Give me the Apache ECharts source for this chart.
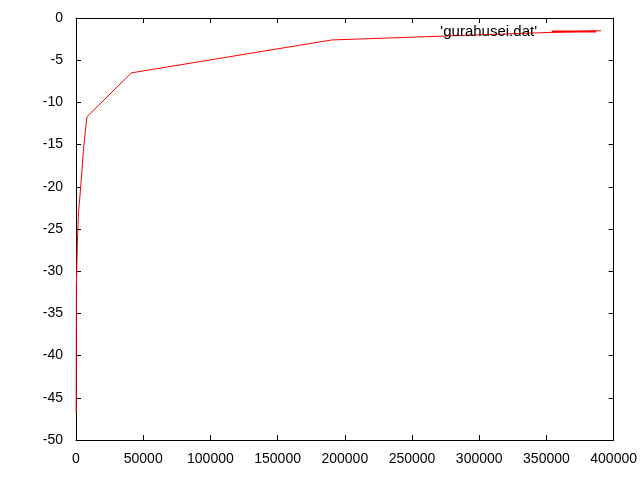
<!DOCTYPE html>
<html>
<head>
<meta charset="utf-8">
<script src="https://cdn.jsdelivr.net/npm/echarts@6/dist/echarts.min.js"></script>
<style>html,body{margin:0;padding:0;background:#fff;}#c{width:640px;height:480px;}</style>
</head>
<body>
<div id="c"></div>
<script>
const seriesName = "'gurahusei.dat'";
const xValues = [150, 300, 1100, 1850, 3300, 5600, 7400, 8200, 41200, 190300, 390600];
const yValues = [-46.8, -31.6, -26.3, -23.1, -20.4, -15.6, -12.7, -11.7, -6.5, -2.6, -1.5];
const xTicks = [0, 50000, 100000, 150000, 200000, 250000, 300000, 350000, 400000];
const yTicks = [-50, -45, -40, -35, -30, -25, -20, -15, -10, -5, 0];

const data = xValues.map((x, i) => [x, yValues[i]]);
const font = 'Liberation Sans, Arial, sans-serif';
const chart = echarts.init(document.getElementById('c'));
const axisCommon = {
  type: 'value',
  axisLine: { show: true, onZero: false, lineStyle: { color: '#000', width: 1 } },
  axisTick: { show: true, inside: true, length: 5, lineStyle: { color: '#000' } },
  splitLine: { show: false }
};
chart.setOption({
  animation: false,
  backgroundColor: '#fff',
  grid: { left: 76, right: 25, top: 18, bottom: 40, containLabel: false },
  legend: {
    data: [{ name: seriesName, icon: 'rect' }],
    right: 44, top: 24, align: 'right', padding: 0,
    itemWidth: 44, itemHeight: 2, itemGap: 0,
    textStyle: { fontFamily: font, fontSize: 15, color: '#000', padding: [0, 10, 0, 0] }
  },
  xAxis: [
    Object.assign({}, axisCommon, {
      min: xTicks[0], max: xTicks[xTicks.length - 1], interval: 50000,
      position: 'bottom',
      axisLabel: { fontFamily: font, fontSize: 14, color: '#000', margin: 12,
        formatter: v => String(v) }
    }),
    Object.assign({}, axisCommon, {
      min: xTicks[0], max: xTicks[xTicks.length - 1], interval: 50000,
      position: 'top', axisLabel: { show: false }
    })
  ],
  yAxis: [
    Object.assign({}, axisCommon, {
      min: yTicks[0], max: yTicks[yTicks.length - 1], interval: 5,
      position: 'left',
      axisLabel: { fontFamily: font, fontSize: 14, color: '#000', margin: 13,
        formatter: v => String(v) }
    }),
    Object.assign({}, axisCommon, {
      min: yTicks[0], max: yTicks[yTicks.length - 1], interval: 5,
      position: 'right', axisLabel: { show: false }
    })
  ],
  series: [{
    name: seriesName,
    type: 'line',
    data: data,
    showSymbol: false,
    symbol: 'none',
    itemStyle: { color: '#ff0000' },
    lineStyle: { color: '#ff0000', width: 1 }
  }]
});
</script>
</body>
</html>
